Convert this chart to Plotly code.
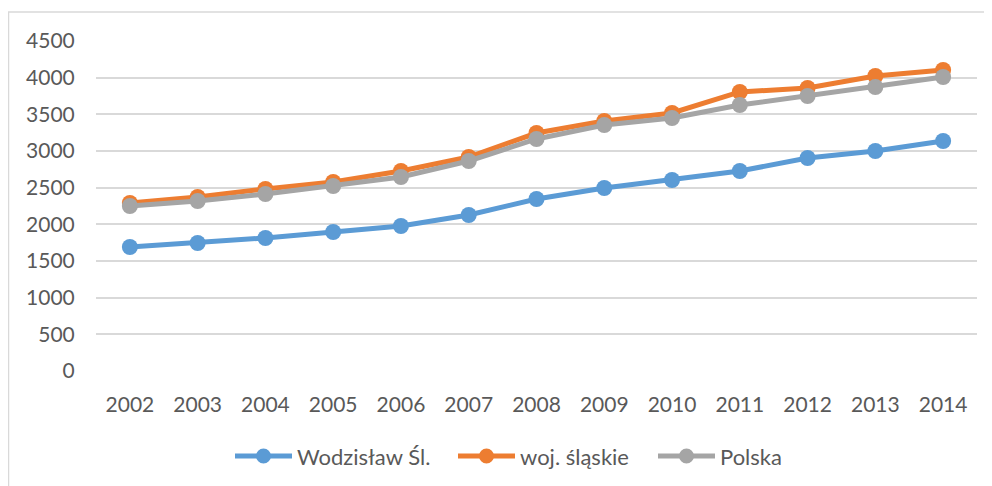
import plotly.graph_objects as go

years = ["2002", "2003", "2004", "2005", "2006", "2007", "2008", "2009", "2010", "2011", "2012", "2013", "2014"]
wodzislaw = [1691, 1745, 1814, 1895, 1977, 2127, 2345, 2495, 2605, 2727, 2905, 3000, 3136]
slaskie = [2291, 2373, 2482, 2577, 2727, 2918, 3245, 3409, 3518, 3805, 3859, 4023, 4105]
polska = [2250, 2318, 2414, 2523, 2645, 2864, 3164, 3355, 3450, 3627, 3750, 3873, 4009]
y_ticks = [0, 500, 1000, 1500, 2000, 2500, 3000, 3500, 4000, 4500]

names = ["Wodzisław Śl.", "woj. śląskie", "Polska"]
colors = ["#5b9bd5", "#ed7d31", "#a5a5a5"]
values = [wodzislaw, slaskie, polska]

fig = go.Figure()
for name, vals, col in zip(names, values, colors):
    fig.add_trace(go.Scatter(
        x=years, y=vals, name=name, mode="lines+markers",
        line=dict(color=col, width=5),
        marker=dict(color=col, size=16),
        showlegend=False,
    ))

# page body has an 8px offset; plot area in page pixels: x 96..977, y 41..371
W, H = 984, 478
L, T = 88, 33
R = W - 969
B = H - 363
pw, ph = W - L - R, H - T - B


def px(xp):
    return (xp - 96) / pw


def py(yp):
    return (371 - yp) / ph


shapes = [dict(type="rect", xref="paper", yref="paper",
               x0=px(8.5), x1=px(1030), y0=py(520), y1=py(12),
               line=dict(color="#d9d9d9", width=1.5), fillcolor="rgba(0,0,0,0)", layer="below")]
annotations = []

# custom legend (Excel style: long line with marker in the middle)
leg_y = 456
leg_x = [235, 458, 658]
line_len = 57
for name, col, x0 in zip(names, colors, leg_x):
    shapes.append(dict(type="line", xref="paper", yref="paper",
                       x0=px(x0), x1=px(x0 + line_len), y0=py(leg_y), y1=py(leg_y),
                       line=dict(color=col, width=5)))
    cx = x0 + line_len / 2
    shapes.append(dict(type="circle", xref="paper", yref="paper",
                       x0=px(cx - 7.5), x1=px(cx + 7.5), y0=py(leg_y + 7.5), y1=py(leg_y - 7.5),
                       line=dict(color=col, width=0), fillcolor=col))
    annotations.append(dict(text=name, xref="paper", yref="paper", x=px(x0 + line_len + 3), y=py(leg_y),
                            xanchor="left", yanchor="middle", showarrow=False,
                            font=dict(size=22, color="#595959")))

fig.update_layout(
    width=W, height=H,
    margin=dict(l=L, r=R, t=T, b=B),
    paper_bgcolor="white", plot_bgcolor="white",
    font=dict(family="Lato, Open Sans, sans-serif", size=21, color="#595959"),
    showlegend=False,
    xaxis=dict(type="category", showgrid=False, zeroline=False, showline=False,
               ticks="outside", ticklen=15, tickcolor="rgba(0,0,0,0)",
               range=[-0.5, len(years) - 0.5]),
    yaxis=dict(range=[0, 4500], tickvals=y_ticks, showgrid=True, gridcolor="#d9d9d9", gridwidth=1.5,
               zeroline=False, showline=False, ticks="outside", ticklen=16,
               tickcolor="rgba(0,0,0,0)"),
    shapes=shapes,
    annotations=annotations,
)

fig.write_html("out.html")
